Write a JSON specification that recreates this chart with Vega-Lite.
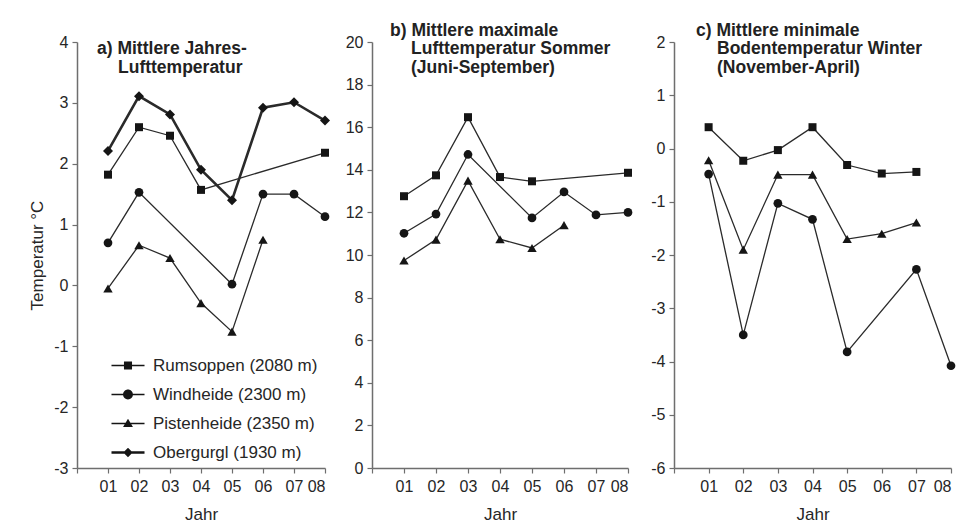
{
  "$schema": "https://vega.github.io/schema/vega-lite/v6.json",
  "background": "white",
  "padding": {"left": 28, "top": 21, "right": 5, "bottom": 5},
  "config": {
    "font": "Liberation Sans",
    "view": {"stroke": null},
    "axis": {
      "domainColor": "#6e6e6e",
      "domainWidth": 1.5,
      "tickColor": "#6e6e6e",
      "tickWidth": 1.2,
      "tickSize": 5,
      "grid": false,
      "labelFont": "Liberation Sans",
      "labelFontSize": 16,
      "labelColor": "#262626",
      "labelPadding": 4,
      "titleFont": "Liberation Sans",
      "titleFontSize": 17,
      "titleFontWeight": "normal",
      "titleColor": "#262626"
    },
    "axisX": {"labelPadding": 5, "titlePadding": 12},
    "title": {
      "font": "Liberation Sans",
      "fontSize": 17.5,
      "fontWeight": "bold",
      "color": "#222222",
      "anchor": "start",
      "frame": "group",
      "baseline": "top",
      "lineHeight": 18.5,
      "offset": -40,
      "dy": 2
    }
  },
  "data": {
    "values": [
      {"Panel": "a", "Station": "Rumsoppen (2080 m)", "Jahr": 1, "Wert": 1.82},
      {"Panel": "a", "Station": "Rumsoppen (2080 m)", "Jahr": 2, "Wert": 2.6},
      {"Panel": "a", "Station": "Rumsoppen (2080 m)", "Jahr": 3, "Wert": 2.46},
      {"Panel": "a", "Station": "Rumsoppen (2080 m)", "Jahr": 4, "Wert": 1.57},
      {"Panel": "a", "Station": "Rumsoppen (2080 m)", "Jahr": 8, "Wert": 2.18},
      {"Panel": "a", "Station": "Windheide (2300 m)", "Jahr": 1, "Wert": 0.7},
      {"Panel": "a", "Station": "Windheide (2300 m)", "Jahr": 2, "Wert": 1.53},
      {"Panel": "a", "Station": "Windheide (2300 m)", "Jahr": 5, "Wert": 0.02},
      {"Panel": "a", "Station": "Windheide (2300 m)", "Jahr": 6, "Wert": 1.5},
      {"Panel": "a", "Station": "Windheide (2300 m)", "Jahr": 7, "Wert": 1.5},
      {"Panel": "a", "Station": "Windheide (2300 m)", "Jahr": 8, "Wert": 1.13},
      {"Panel": "a", "Station": "Pistenheide (2350 m)", "Jahr": 1, "Wert": -0.05},
      {"Panel": "a", "Station": "Pistenheide (2350 m)", "Jahr": 2, "Wert": 0.66},
      {"Panel": "a", "Station": "Pistenheide (2350 m)", "Jahr": 3, "Wert": 0.45},
      {"Panel": "a", "Station": "Pistenheide (2350 m)", "Jahr": 4, "Wert": -0.29},
      {"Panel": "a", "Station": "Pistenheide (2350 m)", "Jahr": 5, "Wert": -0.76},
      {"Panel": "a", "Station": "Pistenheide (2350 m)", "Jahr": 6, "Wert": 0.75},
      {"Panel": "a", "Station": "Obergurgl (1930 m)", "Jahr": 1, "Wert": 2.21},
      {"Panel": "a", "Station": "Obergurgl (1930 m)", "Jahr": 2, "Wert": 3.11},
      {"Panel": "a", "Station": "Obergurgl (1930 m)", "Jahr": 3, "Wert": 2.81},
      {"Panel": "a", "Station": "Obergurgl (1930 m)", "Jahr": 4, "Wert": 1.9},
      {"Panel": "a", "Station": "Obergurgl (1930 m)", "Jahr": 5, "Wert": 1.4},
      {"Panel": "a", "Station": "Obergurgl (1930 m)", "Jahr": 6, "Wert": 2.92},
      {"Panel": "a", "Station": "Obergurgl (1930 m)", "Jahr": 7, "Wert": 3.01},
      {"Panel": "a", "Station": "Obergurgl (1930 m)", "Jahr": 8, "Wert": 2.71},
      {"Panel": "b", "Station": "Rumsoppen (2080 m)", "Jahr": 1, "Wert": 12.76},
      {"Panel": "b", "Station": "Rumsoppen (2080 m)", "Jahr": 2, "Wert": 13.74},
      {"Panel": "b", "Station": "Rumsoppen (2080 m)", "Jahr": 3, "Wert": 16.47},
      {"Panel": "b", "Station": "Rumsoppen (2080 m)", "Jahr": 4, "Wert": 13.66},
      {"Panel": "b", "Station": "Rumsoppen (2080 m)", "Jahr": 5, "Wert": 13.46},
      {"Panel": "b", "Station": "Rumsoppen (2080 m)", "Jahr": 8, "Wert": 13.86},
      {"Panel": "b", "Station": "Windheide (2300 m)", "Jahr": 1, "Wert": 11.02},
      {"Panel": "b", "Station": "Windheide (2300 m)", "Jahr": 2, "Wert": 11.92},
      {"Panel": "b", "Station": "Windheide (2300 m)", "Jahr": 3, "Wert": 14.72},
      {"Panel": "b", "Station": "Windheide (2300 m)", "Jahr": 5, "Wert": 11.74},
      {"Panel": "b", "Station": "Windheide (2300 m)", "Jahr": 6, "Wert": 12.96},
      {"Panel": "b", "Station": "Windheide (2300 m)", "Jahr": 7, "Wert": 11.88},
      {"Panel": "b", "Station": "Windheide (2300 m)", "Jahr": 8, "Wert": 12.0},
      {"Panel": "b", "Station": "Pistenheide (2350 m)", "Jahr": 1, "Wert": 9.74},
      {"Panel": "b", "Station": "Pistenheide (2350 m)", "Jahr": 2, "Wert": 10.72},
      {"Panel": "b", "Station": "Pistenheide (2350 m)", "Jahr": 3, "Wert": 13.49},
      {"Panel": "b", "Station": "Pistenheide (2350 m)", "Jahr": 4, "Wert": 10.74},
      {"Panel": "b", "Station": "Pistenheide (2350 m)", "Jahr": 5, "Wert": 10.33},
      {"Panel": "b", "Station": "Pistenheide (2350 m)", "Jahr": 6, "Wert": 11.4},
      {"Panel": "c", "Station": "Rumsoppen (2080 m)", "Jahr": 1, "Wert": 0.4},
      {"Panel": "c", "Station": "Rumsoppen (2080 m)", "Jahr": 2, "Wert": -0.23},
      {"Panel": "c", "Station": "Rumsoppen (2080 m)", "Jahr": 3, "Wert": -0.03},
      {"Panel": "c", "Station": "Rumsoppen (2080 m)", "Jahr": 4, "Wert": 0.4},
      {"Panel": "c", "Station": "Rumsoppen (2080 m)", "Jahr": 5, "Wert": -0.31},
      {"Panel": "c", "Station": "Rumsoppen (2080 m)", "Jahr": 6, "Wert": -0.47},
      {"Panel": "c", "Station": "Rumsoppen (2080 m)", "Jahr": 7, "Wert": -0.44},
      {"Panel": "c", "Station": "Pistenheide (2350 m)", "Jahr": 1, "Wert": -0.22},
      {"Panel": "c", "Station": "Pistenheide (2350 m)", "Jahr": 2, "Wert": -1.9},
      {"Panel": "c", "Station": "Pistenheide (2350 m)", "Jahr": 3, "Wert": -0.49},
      {"Panel": "c", "Station": "Pistenheide (2350 m)", "Jahr": 4, "Wert": -0.49},
      {"Panel": "c", "Station": "Pistenheide (2350 m)", "Jahr": 5, "Wert": -1.7},
      {"Panel": "c", "Station": "Pistenheide (2350 m)", "Jahr": 6, "Wert": -1.6},
      {"Panel": "c", "Station": "Pistenheide (2350 m)", "Jahr": 7, "Wert": -1.39},
      {"Panel": "c", "Station": "Windheide (2300 m)", "Jahr": 1, "Wert": -0.48},
      {"Panel": "c", "Station": "Windheide (2300 m)", "Jahr": 2, "Wert": -3.5},
      {"Panel": "c", "Station": "Windheide (2300 m)", "Jahr": 3, "Wert": -1.03},
      {"Panel": "c", "Station": "Windheide (2300 m)", "Jahr": 4, "Wert": -1.33},
      {"Panel": "c", "Station": "Windheide (2300 m)", "Jahr": 5, "Wert": -3.82},
      {"Panel": "c", "Station": "Windheide (2300 m)", "Jahr": 7, "Wert": -2.27},
      {"Panel": "c", "Station": "Windheide (2300 m)", "Jahr": 8, "Wert": -4.08}
    ]
  },
  "spacing": 14,
  "hconcat": [
    {
      "width": 248,
      "height": 426,
      "title": {"text": ["a) Mittlere Jahres-", "\u200b\u2002\u2002\u2009Lufttemperatur"], "dx": 20},
      "transform": [{"filter": "datum.Panel === 'a'"}],
      "encoding": {
        "x": {"field": "Jahr", "type": "quantitative", "scale": {"domain": [0, 8], "nice": false},
              "axis": {"title": "Jahr", "values": [0, 1, 2, 3, 4, 5, 6, 7, 8], "labelExpr": "datum.value == 0 ? '' : '0' + datum.value"}},
        "y": {"field": "Wert", "type": "quantitative", "scale": {"domain": [-3, 4], "nice": false},
              "axis": {"title": "Temperatur °C", "values": [-3, -2, -1, 0, 1, 2, 3, 4], "labelExpr": "'' + datum.value", "titlePadding": 7}}
      },
      "layer": [
        {
          "mark": {"type": "line", "color": "#2a2a2a"},
          "encoding": {
            "detail": {"field": "Station"},
            "strokeWidth": {"condition": {"test": "datum.Station === 'Obergurgl (1930 m)'", "value": 2.6}, "value": 1.3}
          }
        },
        {
          "mark": {"type": "point", "filled": true, "color": "#151515", "opacity": 1},
          "encoding": {
            "shape": {"field": "Station", "type": "nominal", "legend": null,
                      "scale": {"domain": ["Rumsoppen (2080 m)", "Windheide (2300 m)", "Pistenheide (2350 m)", "Obergurgl (1930 m)"],
                                "range": ["square", "circle", "triangle-up", "diamond"]}},
            "size": {"field": "Station", "type": "ordinal", "legend": null,
                     "scale": {"domain": ["Rumsoppen (2080 m)", "Windheide (2300 m)", "Pistenheide (2350 m)", "Obergurgl (1930 m)"],
                               "range": [64, 100, 80, 70]}}
          }
        },
        {
          "mark": {"type": "point", "filled": true, "color": "#151515", "opacity": 0},
          "encoding": {
            "shape": {"field": "Station", "type": "nominal",
                      "scale": {"domain": ["Rumsoppen (2080 m)", "Windheide (2300 m)", "Pistenheide (2350 m)", "Obergurgl (1930 m)"],
                                "range": [
                                  "M-1.27,-0.05H1.27V0.05H-1.27Z M-0.31,-0.31H0.31V0.31H-0.31Z",
                                  "M-1.27,-0.05H1.27V0.05H-1.27Z M-0.38,0A0.38,0.38 0 1,1 0.38,0A0.38,0.38 0 1,1 -0.38,0Z",
                                  "M-1.27,-0.05H1.27V0.05H-1.27Z M0,-0.36L0.38,0.26L-0.38,0.26Z",
                                  "M-1.27,-0.1H1.27V0.1H-1.27Z M0,-0.36L0.36,0L0,0.36L-0.36,0Z"
                                ]},
                      "legend": {
                        "title": null,
                        "orient": "none",
                        "legendX": 38,
                        "legendY": 310.5,
                        "padding": 0,
                        "symbolSize": 676,
                        "symbolOpacity": 1,
                        "symbolFillColor": "#151515",
                        "symbolStrokeWidth": 0,
                        "labelFont": "Liberation Sans",
                        "labelFontSize": 17,
                        "labelColor": "#262626",
                        "labelOffset": 12,
                        "labelLimit": 400,
                        "rowPadding": 8
                      }}
          }
        }
      ],
      "resolve": {"scale": {"shape": "independent"}, "legend": {"shape": "independent"}}
    },
    {
      "spacing": 17,
      "hconcat": [
        {
          "width": 256,
          "height": 426,
          "title": {"text": ["b) Mittlere maximale", "\u200b\u2002\u2002\u2009Lufttemperatur Sommer", "\u200b\u2002\u2002\u2009(Juni-September)"], "dx": 18},
          "transform": [{"filter": "datum.Panel === 'b'"}],
          "encoding": {
            "x": {"field": "Jahr", "type": "quantitative", "scale": {"domain": [0, 8], "nice": false},
                  "axis": {"title": "Jahr", "values": [0, 1, 2, 3, 4, 5, 6, 7, 8], "labelExpr": "datum.value == 0 ? '' : '0' + datum.value"}},
            "y": {"field": "Wert", "type": "quantitative", "scale": {"domain": [0, 20], "nice": false},
                  "axis": {"title": null, "values": [0, 2, 4, 6, 8, 10, 12, 14, 16, 18, 20], "labelExpr": "'' + datum.value"}}
          },
          "layer": [
            {
              "mark": {"type": "line", "color": "#2a2a2a", "strokeWidth": 1.3},
              "encoding": {"detail": {"field": "Station"}}
            },
            {
              "mark": {"type": "point", "filled": true, "color": "#151515", "opacity": 1},
              "encoding": {
                "shape": {"field": "Station", "type": "nominal", "legend": null,
                          "scale": {"domain": ["Rumsoppen (2080 m)", "Windheide (2300 m)", "Pistenheide (2350 m)", "Obergurgl (1930 m)"],
                                    "range": ["square", "circle", "triangle-up", "diamond"]}},
                "size": {"field": "Station", "type": "ordinal", "legend": null,
                         "scale": {"domain": ["Rumsoppen (2080 m)", "Windheide (2300 m)", "Pistenheide (2350 m)", "Obergurgl (1930 m)"],
                                   "range": [64, 100, 80, 70]}}
              }
            }
          ]
        },
        {
          "width": 277,
          "height": 426,
          "title": {"text": ["c) Mittlere minimale", "\u200b\u2002\u2002\u2009Bodentemperatur Winter", "\u200b\u2002\u2002\u2009(November-April)"], "dx": 22},
          "transform": [{"filter": "datum.Panel === 'c'"}],
          "encoding": {
            "x": {"field": "Jahr", "type": "quantitative", "scale": {"domain": [0, 8], "nice": false},
                  "axis": {"title": "Jahr", "values": [0, 1, 2, 3, 4, 5, 6, 7, 8], "labelExpr": "datum.value == 0 ? '' : '0' + datum.value"}},
            "y": {"field": "Wert", "type": "quantitative", "scale": {"domain": [-6, 2], "nice": false},
                  "axis": {"title": null, "values": [-6, -5, -4, -3, -2, -1, 0, 1, 2], "labelExpr": "'' + datum.value"}}
          },
          "layer": [
            {
              "mark": {"type": "line", "color": "#2a2a2a", "strokeWidth": 1.3},
              "encoding": {"detail": {"field": "Station"}}
            },
            {
              "mark": {"type": "point", "filled": true, "color": "#151515", "opacity": 1},
              "encoding": {
                "shape": {"field": "Station", "type": "nominal", "legend": null,
                          "scale": {"domain": ["Rumsoppen (2080 m)", "Windheide (2300 m)", "Pistenheide (2350 m)", "Obergurgl (1930 m)"],
                                    "range": ["square", "circle", "triangle-up", "diamond"]}},
                "size": {"field": "Station", "type": "ordinal", "legend": null,
                         "scale": {"domain": ["Rumsoppen (2080 m)", "Windheide (2300 m)", "Pistenheide (2350 m)", "Obergurgl (1930 m)"],
                                   "range": [64, 100, 80, 70]}}
              }
            }
          ]
        }
      ]
    }
  ]
}
